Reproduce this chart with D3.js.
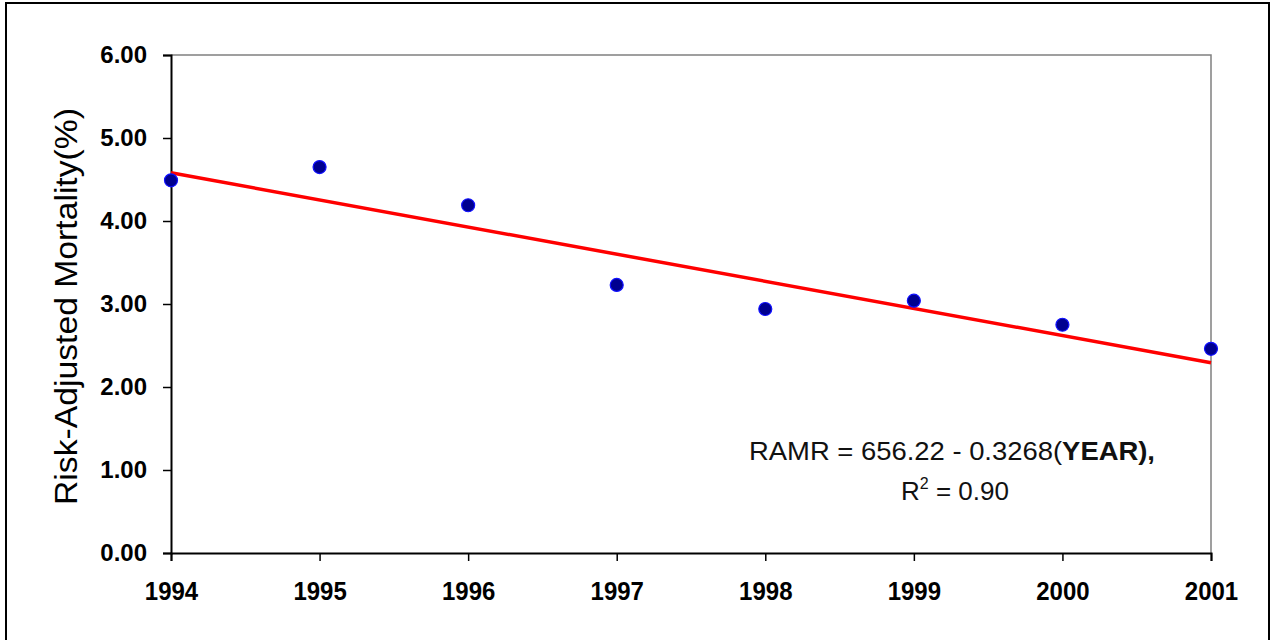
<!DOCTYPE html>
<html>
<head>
<meta charset="utf-8">
<script src="https://cdn.jsdelivr.net/npm/d3@7"></script>
<style>
  html, body { margin: 0; padding: 0; background: #fff; }
  svg { display: block; }
  .tick-lbl { font-family: "Liberation Sans", Arial, sans-serif; font-weight: bold; font-size: 24px; fill: #000; }
</style>
</head>
<body>
<div id="chart"></div>
<script>
// Risk-adjusted mortality by year, with linear trend
const years = [1994, 1995, 1996, 1997, 1998, 1999, 2000, 2001];
const ramr = [4.49, 4.65, 4.19, 3.23, 2.94, 3.04, 2.75, 2.46];
const yTicks = [0, 1, 2, 3, 4, 5, 6];
const trendIntercept = 656.22;
const trendSlope = -0.3268;
const yTitle = "Risk-Adjusted Mortality(%)";

const W = 1273, H = 640;
const plot = { left: 171, right: 1211, top: 55, bottom: 553 };

const svg = d3.select("#chart").append("svg")
  .attr("width", W).attr("height", H);

// outer frame
svg.append("rect")
  .attr("x", 6).attr("y", 3)
  .attr("width", 1263).attr("height", 660)
  .attr("fill", "#fff").attr("stroke", "#000").attr("stroke-width", 2);

const x = d3.scaleLinear().domain([1994, 2001]).range([plot.left, plot.right]);
const y = d3.scaleLinear().domain([0, 6]).range([plot.bottom, plot.top]);

// plot area box (top/right in grey)
svg.append("path")
  .attr("d", `M${plot.left},${plot.top}H${plot.right}V${plot.bottom}`)
  .attr("fill", "none").attr("stroke", "#808080").attr("stroke-width", 1.5);

// y axis
const yAxis = svg.append("g")
  .attr("transform", `translate(${plot.left},0)`)
  .call(d3.axisLeft(y).tickValues(yTicks).tickFormat(d3.format(".2f")).tickSize(8).tickPadding(16));
yAxis.select(".domain").attr("stroke", "#000").attr("stroke-width", 2);
yAxis.selectAll(".tick line").attr("stroke", "#000").attr("stroke-width", 1.5);
yAxis.selectAll(".tick text").attr("class", "tick-lbl").attr("font-size", null).attr("font-family", null);

// x axis
const xAxis = svg.append("g")
  .attr("transform", `translate(0,${plot.bottom})`)
  .call(d3.axisBottom(x).tickValues(years).tickFormat(d3.format("d")).tickSize(8).tickPadding(14));
xAxis.select(".domain").attr("stroke", "#000").attr("stroke-width", 2);
xAxis.selectAll(".tick line").attr("stroke", "#000").attr("stroke-width", 1.5);
xAxis.selectAll(".tick text").attr("class", "tick-lbl").attr("font-size", null).attr("font-family", null)
  .attr("transform", "translate(0,-4) scale(1,1.1)").attr("dy", "1em");

// trend line
const trend = d3.line()
  .x(d => x(d))
  .y(d => y(trendIntercept + trendSlope * d));
svg.append("path")
  .datum([years[0], years[years.length - 1]])
  .attr("d", trend)
  .attr("fill", "none").attr("stroke", "#ff0000").attr("stroke-width", 3.5);

// points
svg.append("g").selectAll("circle")
  .data(years.map((yr, i) => ({ yr, v: ramr[i] })))
  .join("circle")
  .attr("cx", d => x(d.yr))
  .attr("cy", d => y(d.v))
  .attr("r", 6.5)
  .attr("fill", "#000090")
  .attr("stroke", "#1010ff").attr("stroke-width", 1.2);

// y axis title
svg.append("text")
  .attr("transform", `translate(77,${(108 + 505) / 2}) rotate(-90)`)
  .attr("text-anchor", "middle")
  .attr("font-family", "Liberation Sans, Arial, sans-serif")
  .attr("font-size", 31)
  .attr("textLength", 397).attr("lengthAdjust", "spacingAndGlyphs")
  .text(yTitle);

// equation annotation
const eq = svg.append("text")
  .attr("x", 952).attr("y", 460)
  .attr("text-anchor", "middle")
  .attr("font-family", "Liberation Sans, Arial, sans-serif")
  .attr("font-size", 26)
  .attr("textLength", 406).attr("lengthAdjust", "spacingAndGlyphs")
  .attr("fill", "#111");
eq.append("tspan").text(`RAMR = ${trendIntercept.toFixed(2)} - ${Math.abs(trendSlope).toFixed(4)}(`);
eq.append("tspan").attr("font-weight", "bold").text("YEAR),");

const r2 = svg.append("text")
  .attr("x", 955).attr("y", 500)
  .attr("text-anchor", "middle")
  .attr("font-family", "Liberation Sans, Arial, sans-serif")
  .attr("font-size", 26)
  .attr("fill", "#111");
r2.append("tspan").text("R");
r2.append("tspan").attr("font-size", 16).attr("dy", -11).text("2");
r2.append("tspan").attr("dy", 11).text(" = 0.90");
</script>
</body>
</html>
